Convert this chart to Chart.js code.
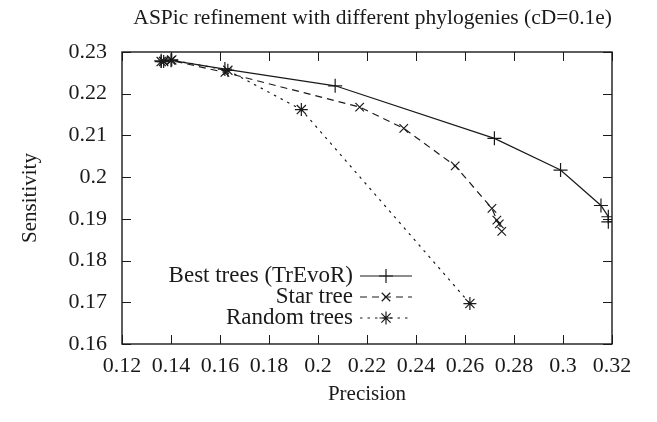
<!DOCTYPE html>
<html>
<head>
<meta charset="utf-8">
<script src="https://cdn.jsdelivr.net/npm/chart.js@4.4.1/dist/chart.umd.min.js"></script>
<style>
  html, body { margin: 0; padding: 0; background: #fff; }
  #wrap { width: 657px; height: 422px; }
</style>
</head>
<body>
<div id="wrap"><canvas id="prChart"></canvas></div>
<script>
const seriesNames = ['Best trees (TrEvoR)', 'Star tree', 'Random trees'];

const bestPrecision   = [0.136, 0.140, 0.162, 0.207, 0.272, 0.299, 0.3155, 0.3185, 0.3185, 0.330];
const bestSensitivity = [0.2279, 0.2280, 0.2259, 0.2219, 0.2093, 0.2017, 0.1932, 0.1905, 0.1893, 0.1902];

const starPrecision   = [0.137, 0.140, 0.162, 0.217, 0.235, 0.256, 0.271, 0.273, 0.274, 0.275];
const starSensitivity = [0.2278, 0.2280, 0.2251, 0.2168, 0.2117, 0.2027, 0.1925, 0.1897, 0.1888, 0.1870];

const randPrecision   = [0.136, 0.137, 0.1403, 0.1632, 0.1932, 0.262];
const randSensitivity = [0.2277, 0.2277, 0.2281, 0.2256, 0.2162, 0.1697];

const precisionTicks   = [0.12, 0.14, 0.16, 0.18, 0.2, 0.22, 0.24, 0.26, 0.28, 0.3, 0.32];
const sensitivityTicks = [0.16, 0.17, 0.18, 0.19, 0.2, 0.21, 0.22, 0.23];

const ink = '#1a1a1a';
const serif = "'Liberation Serif', 'DejaVu Serif', serif";

function toPoints(xs, ys) {
    return xs.map((x, i) => ({ x: x, y: ys[i] }));
}

// gnuplot style frame: border all round, ticks pointing inward
const framePlugin = {
    id: 'frame',
    afterDatasetsDraw(chart) {
        const { ctx, chartArea: a, scales } = chart;
        ctx.save();
        ctx.strokeStyle = ink;
        ctx.lineWidth = 1.4;
        ctx.strokeRect(a.left, a.top, a.right - a.left, a.bottom - a.top);
        ctx.lineWidth = 1;
        const len = 9;
        ctx.beginPath();
        precisionTicks.forEach(v => {
            const px = Math.round(scales.x.getPixelForValue(v)) + 0.5;
            ctx.moveTo(px, a.bottom); ctx.lineTo(px, a.bottom - len);
            ctx.moveTo(px, a.top); ctx.lineTo(px, a.top + len);
        });
        sensitivityTicks.forEach(v => {
            const py = Math.round(scales.y.getPixelForValue(v)) + 0.5;
            ctx.moveTo(a.left, py); ctx.lineTo(a.left + len, py);
            ctx.moveTo(a.right, py); ctx.lineTo(a.right - len, py);
        });
        ctx.stroke();
        ctx.restore();
    }
};

// legend drawn inside the plot, text right aligned then the sample line
const keyPlugin = {
    id: 'key',
    afterDraw(chart) {
        const ctx = chart.ctx;
        const textRight = 353, lineFrom = 360, lineTo = 412, rowTop = 276, rowGap = 21;
        ctx.save();
        ctx.font = '23px ' + serif;
        ctx.fillStyle = ink;
        ctx.textAlign = 'right';
        ctx.textBaseline = 'middle';
        chart.data.datasets.forEach((ds, i) => {
            const y = rowTop + i * rowGap;
            ctx.fillText(ds.label, textRight, y);
            ctx.strokeStyle = ds.borderColor;
            ctx.lineWidth = ds.borderWidth;
            ctx.setLineDash(ds.borderDash || []);
            ctx.beginPath();
            ctx.moveTo(lineFrom, y); ctx.lineTo(lineTo, y);
            ctx.stroke();
            ctx.setLineDash([]);
            Chart.helpers.drawPoint(ctx, {
                pointStyle: ds.pointStyle, radius: ds.pointRadius,
                borderWidth: ds.pointBorderWidth, rotation: 0
            }, (lineFrom + lineTo) / 2, y);
        });
        ctx.restore();
    }
};

function lineSet(label, data, dash, style, radius) {
    return {
        label: label,
        data: data,
        borderColor: ink,
        backgroundColor: ink,
        borderWidth: 1.2,
        borderDash: dash,
        pointStyle: style,
        pointRadius: radius,
        pointBorderWidth: 1.2,
        pointBorderColor: ink,
        tension: 0,
        fill: false
    };
}

const ctx = document.getElementById('prChart').getContext('2d');
const myChart = new Chart(ctx, {
    type: 'line',
    data: {
        datasets: [
            lineSet(seriesNames[0], toPoints(bestPrecision, bestSensitivity), [], 'cross', 7),
            lineSet(seriesNames[1], toPoints(starPrecision, starSensitivity), [7, 5], 'crossRot', 6),
            lineSet(seriesNames[2], toPoints(randPrecision, randSensitivity), [2.5, 5], 'star', 6.5)
        ]
    },
    plugins: [framePlugin, keyPlugin],
    options: {
        responsive: true,
        maintainAspectRatio: false,
        animation: false,
        layout: { padding: { left: 0, right: 45, top: 0, bottom: 15 } },
        plugins: {
            legend: { display: false },
            tooltip: { enabled: false },
            title: {
                display: true,
                align: 'end',
                text: 'ASPic refinement with different phylogenies (cD=0.1e)',
                color: ink,
                font: { family: serif, size: 21.5, weight: 'normal' },
                padding: { top: 5.5, bottom: 20.7 }
            }
        },
        scales: {
            x: {
                type: 'linear',
                min: 0.12,
                max: 0.32,
                afterBuildTicks: s => { s.ticks = precisionTicks.map(v => ({ value: v })); },
                afterFit: s => { s.height = 63; },
                grid: { display: false, drawTicks: false },
                border: { display: false },
                ticks: {
                    color: ink,
                    padding: 9,
                    maxRotation: 0,
                    autoSkip: false,
                    font: { family: serif, size: 22 },
                    callback: v => String(Number(v.toFixed(2)))
                },
                title: {
                    display: true,
                    text: 'Precision',
                    color: ink,
                    font: { family: serif, size: 21 },
                    padding: { top: 6, bottom: 0 }
                }
            },
            y: {
                type: 'linear',
                min: 0.16,
                max: 0.23,
                afterBuildTicks: s => { s.ticks = sensitivityTicks.map(v => ({ value: v })); },
                afterFit: s => { s.width = 122; },
                grid: { display: false, drawTicks: false },
                border: { display: false },
                ticks: {
                    color: ink,
                    padding: 15,
                    autoSkip: false,
                    font: { family: serif, size: 22 },
                    callback: v => String(Number(v.toFixed(2)))
                },
                title: {
                    display: true,
                    text: 'Sensitivity',
                    color: ink,
                    font: { family: serif, size: 21 },
                    padding: { top: 18, bottom: 20 }
                }
            }
        }
    }
});
</script>
</body>
</html>
